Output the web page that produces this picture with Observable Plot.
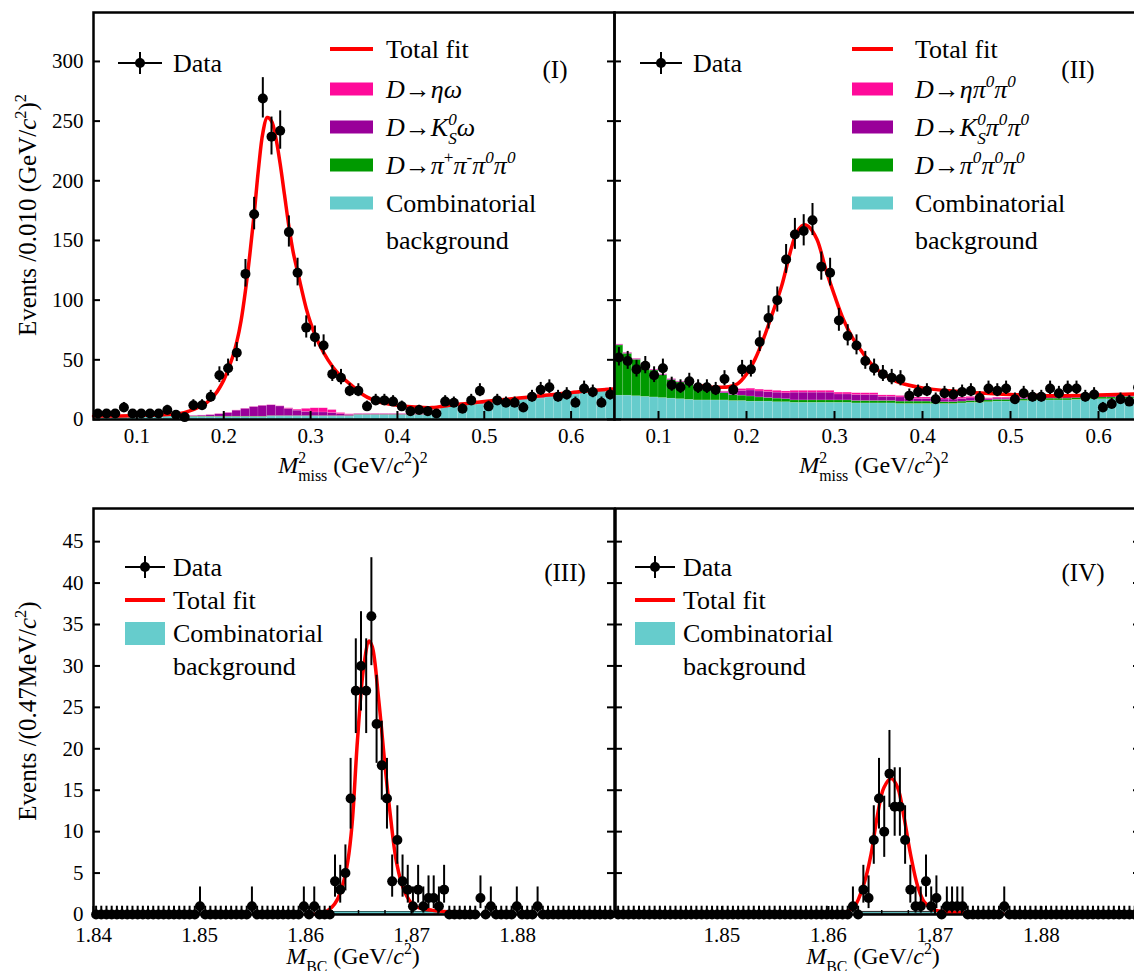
<!DOCTYPE html>
<html>
<head>
<meta charset="utf-8">
<script src="https://cdn.jsdelivr.net/npm/d3@7"></script>
<script src="https://cdn.jsdelivr.net/npm/@observablehq/plot@0.6"></script>
<style>
html,body{margin:0;padding:0;background:#fff;overflow:hidden;}
#fig{position:relative;width:1134px;height:971px;overflow:hidden;background:#fff;}
#fig > div{position:absolute;}
</style>
</head>
<body>
<div id="fig"></div>
<script>
// ================= DATA =================
// Top row: M^2_miss histograms, bins of 0.010 (GeV/c^2)^2 from 0.05 to 0.65
const missLo = 0.05, missWidth = 0.01, missDomain = [0.05, 0.65];
const dataI = [5,5,5,10,5,5,5,5,8,4, 2,12,12,19,37,43,56,122,172,269,
  237,242,157,123,77,69,62,38,35,24, 24,11,16,16,15,11,7,8,7,5,
  15,14,9,16,24,11,16,14,14,10, 19,25,27,19,21,14,26,23,14,21];
const dataII = [52,49,42,45,37,43,29,27,32,27, 27,25,34,25,42,42,65,85,100,134,
  155,158,167,128,123,83,70,62,49,43, 38,35,34,20,23,24,17,22,21,23,
  24,18,26,24,26,17,22,19,19,26, 22,26,26,19,21,10,13,17,15,27];

// stacked background components (bottom to top): combinatorial, pi pi pi pi, Ks, eta
const combI = [2.5,2.5,2.5,2.5,2.5,2.5,2.5,2.5,2.5,2.5, 2,2,2,2,2,2,2,2,2,2,
  2.5,2.5,2.5,2.5,2.5,2.5,2.5,2.5,2.5,2.5, 3.5,3.5,3.5,3.5,3.5,3.5,3.5,3.5,3.5,3.5,
  11,11,11.5,12,12.5,13.5,14,14,15,16, 17,17.5,18.5,19.5,20.5,21,22,23,24,25];
const pipiI = [0.4,0.4,0.4,0.4,0.4,0.4,0.4,0.4,0.4,0.4, 0.4,0.4,0.4,0.4,0.4,0.4,0.4,0.4,0.4,0.4,
  0.4,0.4,0.4,0.4,0.4,0.4,0.4,0.4,0.4,0.4, 0.4,0.4,0.4,0.4,0.4,0.4,0.4,0.4,0.4,0.4,
  0.4,0.4,0.4,0.4,0.4,0.4,0.4,0.4,0.4,0.4, 0.4,0.4,0.4,0.4,0.4,0.4,0.4,0.4,0.4,0.4];
const ksI = [0.3,0.3,0.3,0.3,0.3,0.3,0.3,0.3,0.3,0.3, 0.3,0.5,0.8,1.2,2,3,5,6.5,8,9,
  9,8,6,4.5,3.5,3,3,2.5,1.5,1, 0.6,0.6,0.6,0.6,0.6,0.6,0.6,0.6,0.6,0.6,
  0.6,0.6,0.6,0.6,0.6,0.6,0.6,0.6,0.6,0.6, 0.6,0.6,0.6,0.6,0.6,0.6,0.6,0.6,0.6,0.6];
const etaI = [0.2,0.2,0.2,0.2,0.2,0.2,0.2,0.2,0.2,0.2, 0.2,0.2,0.2,0.2,0.2,0.2,0.2,0.2,0.2,0.2,
  0.2,0.2,0.5,0.8,2.5,3.5,3.5,2.5,1,0.5, 0.2,0.2,0.2,0.2,0.2,0.2,0.2,0.2,0.2,0.2,
  0.2,0.2,0.2,0.2,0.2,0.2,0.2,0.2,0.2,0.2, 0.2,0.2,0.2,0.2,0.2,0.2,0.2,0.2,0.2,0.2];

const combII = [20,20,19.5,19,18.5,18,17.5,17,16.5,16, 16,16,16,15.5,15.5,15,15,15,14.5,14.5,
  14,14,14,14,14,14,14,13.5,13.5,13.5, 13.5,13.5,13,13,13,13,13,13,13,13.5,
  14,14,14.5,15,15,15,15.5,15.5,16,16, 16,16,16.5,16.5,17,17,17,17,17.5,17.5];
const pipiII = [42,35,30.5,27,22.5,19,15.5,14,13,11, 9,7.5,6,5,4.5,4.3,3.5,3,3,2.5,
  2,2,2,2,2,2,2,2,2,2, 2,2,2,2,2,2,1.5,1.5,1.5,1.5,
  1.5,1.5,1.5,1.5,1.5,1.5,1.5,1.5,1.5,1.5, 1.5,1.5,1.5,1.5,1.5,1.5,1.5,1.5,1.5,1.5];
const ksII = [0.6,0.6,0.6,0.6,0.6,0.6,0.6,0.6,0.6,0.6, 0.8,0.8,1,2.5,4,5,5,5,5,5,
  6.5,6.5,6.5,6.5,6.5,5,5,5,5,5, 3.5,3.5,3.5,2.2,2.2,2.2,2.2,2.2,2.2,2.2,
  2.2,1,1,1,1,1,1,1,1,1, 1,1,1,1,1,1,1,1,1,1];
const etaII = [0.3,0.3,0.3,0.3,0.3,0.3,0.3,0.3,0.3,0.3, 0.3,0.3,0.5,1.5,1.5,1.5,1.5,1.5,1.5,1.5,
  1.5,1.5,1.5,1.5,1.5,1.5,1.5,1.5,1.5,1.5, 1.2,1.2,1.2,1.2,1.2,1.2,1.2,1.2,1.2,1.2,
  1.2,0.8,0.8,0.8,0.8,0.8,0.8,0.8,0.8,0.8, 0.8,0.8,0.8,0.8,0.8,0.8,0.8,0.8,0.8,0.8];

// total fit curves
const fitIx = [0.05,0.08,0.11,0.13,0.15,0.16,0.17,0.18,0.19,0.20,0.205,0.21,0.215,0.22,0.225,0.23,0.235,0.24,0.245,0.25,
  0.255,0.26,0.265,0.27,0.275,0.28,0.285,0.29,0.295,0.30,0.31,0.32,0.33,0.34,0.35,0.36,0.37,0.38,0.39,0.40,
  0.42,0.44,0.46,0.48,0.50,0.52,0.54,0.56,0.58,0.60,0.62,0.65];
const fitIy = [3,3,3.5,4,5,7,10,14,21,33,42,52,65,83,108,138,172,210,240,253,
  250,236,214,188,162,140,124,108,93,81,63,50,40,33,27,21,17,14.5,13,12,
  10.5,10,12,13.5,15,16.5,18,19.5,21,22.5,24,25.5];
const fitIIx = [0.15,0.16,0.17,0.18,0.19,0.20,0.21,0.22,0.23,0.24,0.25,0.255,0.26,0.265,0.27,0.28,0.29,0.30,0.31,0.32,
  0.33,0.34,0.35,0.36,0.37,0.38,0.40,0.43,0.46,0.50,0.55,0.60,0.65];
const fitIIy = [28,27,27,27.5,30,38,51,69,90,112,141,153,160,163,162,151,126,104,84,69,
  58,48,41,36,32,29.5,26.5,24,22.5,21,20,20.5,21.5];

// Bottom row: M_BC histograms, 100 bins from 1.840 to 1.889
const mbcLo = 1.84, mbcWidth = 0.00049;
const dataIII = [0,0,0,0,0,0,0,0,0,0, 0,0,0,0,0,0,0,0,0,0,
  1,0,0,0,0,0,0,0,0,0, 1,0,0,0,0,0,0,0,0,0,
  1,0,1,0,0,0,4,3,5,14, 27,30,27,36,23,18,14,4,9,4,
  3,1,3,1,2,2,1,3,0,0, 0,0,0,0,2,0,1,0,0,0,
  0,1,0,0,0,1,0,0,0,0, 0,0,0,0,0,0,0,0,0,0];
const dataIV = [0,0,0,0,0,0,0,0,0,0, 0,0,0,0,0,0,0,0,0,0,
  0,0,0,0,0,0,0,0,0,0, 0,0,0,0,0,0,0,0,0,0,
  0,0,0,0,0,1,0,3,2,9, 14,10,17,13,13,9,3,1,1,4,
  1,2,0,1,1,1,1,0,0,0, 0,0,0,0,1,0,0,0,0,0,
  0,0,0,0,0,0,0,0,0,0, 0,0,0,0,0,0,0,0,0,0];
const fitIIIx = [1.8600,1.8612,1.8620,1.8625,1.8630,1.8635,1.8640,1.8644,1.8649,1.8655,1.8660,1.8663,1.8669,1.8675,1.8680,1.8686,1.8693,1.8702,1.8720,1.8740,1.8760];
const fitIIIy = [0,0.1,0.4,0.9,1.8,3.5,6.5,11,21,30,33,32.3,26,18,12,6.2,2.9,1.1,0.5,0.3,0.15];
const fitIVx = [1.8599,1.8614,1.8624,1.8634,1.8640,1.8646,1.8652,1.8659,1.8665,1.8671,1.8677,1.8684,1.8690,1.8699,1.8714,1.8739,1.8764];
const fitIVy = [0,0.2,0.9,4,7.3,12,15.3,16.4,15.3,11.7,7.3,3.3,1.5,0.6,0.3,0.15,0.1];
const combIIIrange = [1.8623, 1.8733], combIIIval = 0.3;
const combIVrange = [1.8631, 1.8732], combIVval = 0.3;

// axes ticks
const yTicksTop = [0,50,100,150,200,250,300];
const xTicksTop = [0.1,0.2,0.3,0.4,0.5,0.6];
const yTicksBot = [0,5,10,15,20,25,30,35,40,45];
const xTicksBot = [1.84,1.85,1.86,1.87,1.88];
const xTicksBotIV = [1.85,1.86,1.87,1.88];
const xMinorBot = [1.8425,1.845,1.8475,1.8525,1.855,1.8575,1.8625,1.865,1.8675,1.8725,1.875,1.8775,1.8825,1.885,1.8875];

// ================= STYLE =================
const FONT = '"Liberation Serif","Times New Roman",Times,serif';
const RED = "#ff0000", PINK = "#ff0a9a", PURPLE = "#990099", GREEN = "#009a00", CYAN = "#66cccc";
const ZERO_UP = 1.0;

function errs(n) {
  if (n === 0) return [0, ZERO_UP];
  const hi = n + Math.sqrt(n + 0.75) + 1;
  const lo = n * Math.pow(1 - 1 / (9 * n) - 1 / (3 * Math.sqrt(n)), 3);
  return [lo, hi];
}
function pointRows(arr, lo, w) {
  return arr.map((n, i) => { const [a, b] = errs(n); return {x: lo + (i + 0.5) * w, n, lo: a, hi: b}; });
}
function stackMarks(lo, w, comps) {
  const marks = [];
  const base = new Array(comps[0].values.length).fill(0);
  for (const c of comps) {
    const rows = c.values.map((v, i) => { const r = {x1: lo + i * w, x2: lo + (i + 1) * w, y1: base[i], y2: base[i] + v}; base[i] += v; return r; });
    marks.push(Plot.rect(rows, {x1: "x1", x2: "x2", y1: "y1", y2: "y2", fill: c.color, stroke: "white", strokeOpacity: 0.25, strokeWidth: 0.5}));
  }
  return marks;
}
const xy = (xs, ys) => xs.map((x, i) => ({x, y: ys[i]}));

function rich(g, x, y, parts, size, anchor = "start") {
  const t = g.append("text").attr("x", x).attr("y", y).attr("font-size", size)
    .attr("font-family", FONT).attr("fill", "black").attr("text-anchor", anchor);
  let cur = 0;
  for (const p of parts) {
    const target = p.sup ? -0.42 * size : p.sub ? 0.32 * size : 0;
    const ts = t.append("tspan").text(p.t);
    if (p.it) ts.attr("font-style", "italic");
    if (p.sup || p.sub) ts.attr("font-size", (p.scale || 0.66) * size);
    if (target - cur) ts.attr("dy", target - cur);
    if (p.dx) ts.attr("dx", p.dx);
    cur = target;
  }
  return t;
}

function makePlot(cfg) {
  const PW = cfg.width - cfg.marginLeft - cfg.marginRight;
  const PH = cfg.height - cfg.marginTop - cfg.marginBottom;
  const marks = [...(cfg.under || [])];
  marks.push(Plot.line(cfg.fit, {x: "x", y: "y", stroke: RED, strokeWidth: 3.5, curve: "catmull-rom"}));
  marks.push(Plot.ruleX(cfg.points, {x: "x", y1: "lo", y2: "hi", stroke: "black", strokeWidth: 2}));
  marks.push(Plot.dot(cfg.points, {x: "x", y: "n", r: 5, fill: "black", stroke: "none"}));
  marks.push(Plot.frame({stroke: "black", strokeWidth: 2.5}));
  marks.push(Plot.tickY(cfg.yTicks, {y: d => d, insetRight: PW - 7, stroke: "black", strokeWidth: 2}));
  marks.push(Plot.tickY(cfg.yTicks, {y: d => d, insetLeft: PW - 7, stroke: "black", strokeWidth: 2}));
  marks.push(Plot.tickX(cfg.xTicksAll, {x: d => d, insetTop: PH - 8, stroke: "black", strokeWidth: 2}));
  if (cfg.xMinor) marks.push(Plot.tickX(cfg.xMinor, {x: d => d, insetTop: PH - 4, stroke: "black", strokeWidth: 1.5}));
  if (cfg.yLabels) marks.push(Plot.axisY(cfg.yTicks, {tickSize: 0, tickPadding: 10, label: null, fontSize: 21}));
  marks.push(Plot.axisX(cfg.xTicks, {tickSize: 0, tickPadding: cfg.xPad || 9, label: null, fontSize: 21}));
  return Plot.plot({
    width: cfg.width, height: cfg.height,
    marginLeft: cfg.marginLeft, marginRight: cfg.marginRight, marginTop: cfg.marginTop, marginBottom: cfg.marginBottom,
    x: {domain: cfg.xDomain}, y: {domain: cfg.yDomain, axis: null},
    style: {background: "transparent", fontFamily: FONT, fontSize: "21px", color: "black", maxWidth: "none", overflow: "visible"},
    marks
  });
}

const fig = document.getElementById("fig");
function place(svg, left, top) {
  const d = document.createElement("div");
  d.style.left = left + "px"; d.style.top = top + "px";
  d.style.width = svg.getAttribute("width") + "px";
  d.appendChild(svg); fig.appendChild(d);
  return d3.select(svg);
}

// ---------- Panel I ----------
const p1 = makePlot({
  width: 620, height: 479, marginLeft: 93, marginRight: 6, marginTop: 12, marginBottom: 60,
  xDomain: missDomain, yDomain: [0, 341], yTicks: yTicksTop, xTicks: xTicksTop, xTicksAll: xTicksTop, yLabels: true,
  under: stackMarks(missLo, missWidth, [{values: combI, color: CYAN}, {values: pipiI, color: GREEN}, {values: ksI, color: PURPLE}, {values: etaI, color: PINK}]),
  fit: xy(fitIx, fitIy), points: pointRows(dataI, missLo, missWidth)
});
// ---------- Panel II ----------
const p2 = makePlot({
  width: 540, height: 479, marginLeft: 6, marginRight: 6, marginTop: 12, marginBottom: 60,
  xDomain: missDomain, yDomain: [0, 341], yTicks: yTicksTop, xTicks: xTicksTop, xTicksAll: xTicksTop, yLabels: false,
  under: stackMarks(missLo, missWidth, [{values: combII, color: CYAN}, {values: pipiII, color: GREEN}, {values: ksII, color: PURPLE}, {values: etaII, color: PINK}]),
  fit: xy(fitIIx, fitIIy), points: pointRows(dataII, missLo, missWidth)
});
// ---------- Panel III ----------
const p3 = makePlot({
  width: 620, height: 478, marginLeft: 93, marginRight: 6, marginTop: 12, marginBottom: 60,
  xDomain: [1.84, 1.88915], yDomain: [0, 49], yTicks: yTicksBot, xTicks: xTicksBot, xTicksAll: xTicksBot, xMinor: xMinorBot, yLabels: true, xPad: 13,
  under: [Plot.rect([{x1: combIIIrange[0], x2: combIIIrange[1], y: combIIIval}], {x1: "x1", x2: "x2", y1: 0, y2: "y", fill: CYAN, stroke: "#2f5f5f", strokeWidth: 1})],
  fit: xy(fitIIIx, fitIIIy), points: pointRows(dataIII, mbcLo, mbcWidth)
});
// ---------- Panel IV ----------
const p4 = makePlot({
  width: 537, height: 478, marginLeft: 6, marginRight: 6, marginTop: 12, marginBottom: 60,
  xDomain: [1.84, 1.8893], yDomain: [0, 49], yTicks: yTicksBot, xTicks: xTicksBotIV, xTicksAll: xTicksBot, xMinor: xMinorBot, yLabels: false, xPad: 13,
  under: [Plot.rect([{x1: combIVrange[0], x2: combIVrange[1], y: combIVval}], {x1: "x1", x2: "x2", y1: 0, y2: "y", fill: CYAN, stroke: "#333", strokeWidth: 1.2})],
  fit: xy(fitIVx, fitIVy), points: pointRows(dataIV, mbcLo, mbcWidth)
});

const s1 = place(p1, 0, 0);
const s2 = place(p2, 608, 0);
const s3 = place(p3, 0, 496);
const s4 = place(p4, 609, 496);

// ---------- labels & legends ----------
const LG = 26;
function dataMarker(s, x1, x2, y) {
  const cx = (x1 + x2) / 2;
  s.append("line").attr("x1", x1).attr("x2", x2).attr("y1", y).attr("y2", y).attr("stroke", "black").attr("stroke-width", 2);
  s.append("line").attr("x1", cx).attr("x2", cx).attr("y1", y - 11).attr("y2", y + 11).attr("stroke", "black").attr("stroke-width", 2);
  s.append("circle").attr("cx", cx).attr("cy", y).attr("r", 5).attr("fill", "black");
}
function fitKey(s, x1, x2, y) {
  s.append("line").attr("x1", x1).attr("x2", x2).attr("y1", y).attr("y2", y).attr("stroke", RED).attr("stroke-width", 4);
}
function boxKey(s, x1, x2, y1, y2, color) {
  s.append("rect").attr("x", x1).attr("y", y1).attr("width", x2 - x1).attr("height", y2 - y1).attr("fill", color);
}
const D = {t: "D", it: true}, AR = {t: "\u2192"};
const pi = {t: "\u03c0", it: true}, zero = {t: "0", it: true, sup: true};

function topLegend(s, ox, dx1, dx2, lx1, lx2, tx, roman, rx, comps) {
  dataMarker(s, dx1 - ox, dx2 - ox, 63);
  rich(s, dx2 - ox + 11, 63 + 9, [{t: "Data"}], LG);
  fitKey(s, lx1 - ox, lx2 - ox, 49);
  rich(s, tx - ox, 49 + 9, [{t: "Total fit"}], LG);
  const ys = [89, 127, 165, 203];
  const cols = [PINK, PURPLE, GREEN, CYAN];
  comps.forEach((parts, k) => {
    boxKey(s, lx1 - ox, lx2 - ox, ys[k] - 6.5, ys[k] + 6.5, cols[k]);
    rich(s, tx - ox, ys[k] + 9, parts, LG);
  });
  rich(s, tx - ox, 240 + 9, [{t: "background"}], LG);
  rich(s, rx - ox, 70 + 8, [{t: roman}], 25, "middle");
}
topLegend(s1, 0, 118, 162, 330, 373, 386, "(I)", 555, [
  [D, AR, {t: "\u03b7\u03c9", it: true}],
  [D, AR, {t: "K", it: true}, {t: "0", it: true, sup: true}, {t: "S", it: true, sub: true, dx: -8.5}, {t: "\u03c9", it: true}],
  [D, AR, pi, {t: "+", sup: true}, pi, {t: "-", sup: true}, pi, zero, pi, zero],
  [{t: "Combinatorial"}]
]);
topLegend(s2, 608, 640, 682, 852, 893, 915, "(II)", 1078, [
  [D, AR, {t: "\u03b7", it: true}, pi, zero, pi, zero],
  [D, AR, {t: "K", it: true}, {t: "0", it: true, sup: true}, {t: "S", it: true, sub: true, dx: -8.5}, pi, zero, pi, zero],
  [D, AR, pi, zero, pi, zero, pi, zero],
  [{t: "Combinatorial"}]
]);

function botLegend(s, ox, x1, x2, roman, rx) {
  const oy = 496;
  dataMarker(s, x1 - ox, x2 - ox, 567 - oy);
  rich(s, x2 - ox + 8, 567 - oy + 9, [{t: "Data"}], LG);
  fitKey(s, x1 - ox, x2 - ox, 600 - oy);
  rich(s, x2 - ox + 8, 600 - oy + 9, [{t: "Total fit"}], LG);
  boxKey(s, x1 - ox, x2 - ox, 622 - oy, 645 - oy, CYAN);
  rich(s, x2 - ox + 8, 633 - oy + 9, [{t: "Combinatorial"}], LG);
  rich(s, x2 - ox + 8, 666 - oy + 9, [{t: "background"}], LG);
  rich(s, rx - ox, 573 - oy + 8, [{t: roman}], 25, "middle");
}
botLegend(s3, 0, 125, 165, "(III)", 565);
botLegend(s4, 609, 635, 675, "(IV)", 1083);

// axis titles
const xTitleTop = [{t: "M", it: true}, {t: "2", sup: true}, {t: "miss", sub: true, dx: -8}, {t: " (GeV/"}, {t: "c", it: true}, {t: "2", sup: true}, {t: ")"}, {t: "2", sup: true}];
rich(s1, 353, 473, xTitleTop, 24, "middle");
rich(s2, 874 - 608, 473, xTitleTop, 24, "middle");
const xTitleBot = [{t: "M", it: true}, {t: "BC", sub: true}, {t: " (GeV/"}, {t: "c", it: true}, {t: "2", sup: true}, {t: ")"}];
rich(s3, 353, 964 - 496, xTitleBot, 24, "middle");
rich(s4, 873 - 609, 964 - 496, xTitleBot, 24, "middle");

const gy1 = s1.append("g").attr("transform", "translate(27,215) rotate(-90)");
rich(gy1, 0, 9, [{t: "Events /0.010 (GeV/"}, {t: "c", it: true}, {t: "2", sup: true}, {t: ")"}, {t: "2", sup: true}], 25, "middle");
const gy3 = s3.append("g").attr("transform", `translate(27,${711 - 496}) rotate(-90)`);
rich(gy3, 0, 9, [{t: "Events /(0.47MeV/"}, {t: "c", it: true}, {t: "2", sup: true}, {t: ")"}], 25, "middle");
</script>
</body>
</html>
